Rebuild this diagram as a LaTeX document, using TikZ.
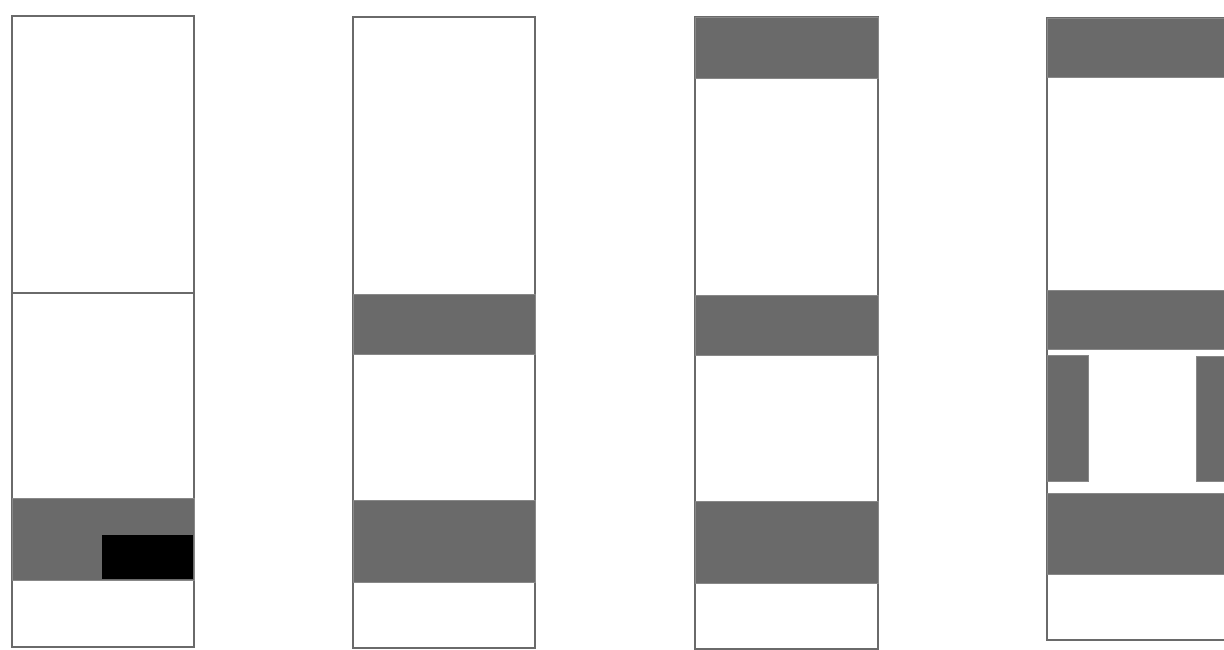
\documentclass[tikz,border=0pt]{standalone}
\usepackage{xcolor}
\usepackage{tikz}

\definecolor{bandgray}{RGB}{106,106,106}

\begin{document}
\begin{tikzpicture}[
  x=1pt, y=-1pt,
  frame/.style={draw=bandgray, line width=2pt, fill=white},
  band/.style={fill=bandgray, draw=bandgray!80, line width=0.6pt},
  core/.style={fill=black, draw=bandgray, line width=0.6pt}]
\clip (0,0) rectangle (1224,650);
\useasboundingbox (0,0) rectangle (1224,650);
% first column
\draw[frame] (12,16) rectangle (194,647);
\draw[bandgray, line width=2pt] (12,293) -- (194,293);
\path[band] (12,498) rectangle (194,580);
\path[core] (101,534) rectangle (193,579);
% second column
\draw[frame] (353,17) rectangle (535,648);
\foreach \ya/\yb in {294/354, 500/582}
  \path[band] (353,\ya) rectangle (535,\yb);
% third column
\draw[frame] (695,17) rectangle (878,649);
\foreach \ya/\yb in {17/78, 295/355, 501/583}
  \path[band] (695,\ya) rectangle (878,\yb);
% fourth column
\draw[frame] (1047,18) rectangle (1240,640);
\foreach \ya/\yb in {18/77, 290/349, 493/574}
  \path[band] (1047,\ya) rectangle (1240,\yb);
\path[band] (1047,355) rectangle (1088,481);
\path[band] (1196,356) rectangle (1240,481);
\end{tikzpicture}
\end{document}
